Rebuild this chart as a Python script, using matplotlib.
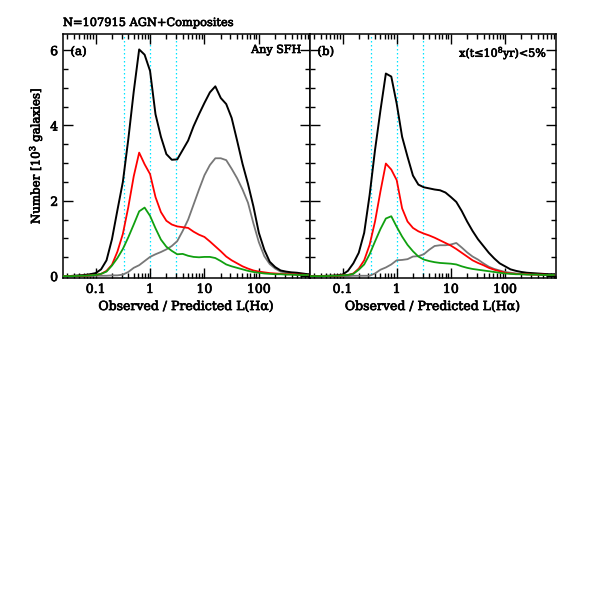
import numpy as np
import matplotlib
matplotlib.use("Agg")
import matplotlib.pyplot as plt
import matplotlib.patheffects as pe
from matplotlib.ticker import LogLocator, FixedLocator, MultipleLocator, FixedFormatter

# log10 of bin centres (Observed / Predicted L(Halpha))
logx = [-1.6, -1.5, -1.4, -1.3, -1.2, -1.1, -1.0, -0.9, -0.8, -0.7,
        -0.6, -0.5, -0.4, -0.3, -0.2, -0.1, 0.0, 0.1, 0.2, 0.3,
        0.4, 0.5, 0.6, 0.7, 0.8, 0.9, 1.0, 1.1, 1.2, 1.3,
        1.4, 1.5, 1.6, 1.7, 1.8, 1.9, 2.0, 2.1, 2.2, 2.3,
        2.4, 2.5, 2.6, 2.7, 2.8, 2.9]

# Panel (a): Any SFH
a_black = [0.0, 0.0, 0.01, 0.02, 0.03, 0.05, 0.08, 0.18, 0.42, 0.98,
           1.75, 2.5, 3.63, 4.9, 6.02, 5.88, 5.45, 4.3, 3.7, 3.24,
           3.09, 3.1, 3.35, 3.6, 3.98, 4.3, 4.6, 4.88, 5.04, 4.73,
           4.57, 4.2, 3.6, 2.98, 2.45, 1.85, 1.15, 0.7, 0.38, 0.24,
           0.15, 0.12, 0.1, 0.09, 0.07, 0.05]
a_gray = [0.0, 0.0, 0.0, 0.0, 0.0, 0.0, 0.01, 0.01, 0.01, 0.02,
          0.02, 0.04, 0.11, 0.22, 0.29, 0.4, 0.51, 0.58, 0.64, 0.71,
          0.8, 0.93, 1.2, 1.5, 1.9, 2.3, 2.68, 2.95, 3.13, 3.13,
          3.08, 2.85, 2.6, 2.3, 1.95, 1.4, 0.9, 0.53, 0.32, 0.2,
          0.12, 0.09, 0.07, 0.06, 0.05, 0.04]
a_red = [0.0, 0.0, 0.0, 0.01, 0.01, 0.02, 0.03, 0.06, 0.14, 0.3,
         0.65, 1.12, 1.83, 2.65, 3.28, 2.97, 2.71, 2.1, 1.7, 1.47,
         1.37, 1.32, 1.3, 1.28, 1.18, 1.1, 1.04, 0.92, 0.79, 0.66,
         0.52, 0.42, 0.34, 0.26, 0.2, 0.15, 0.12, 0.1, 0.08, 0.07,
         0.06, 0.05, 0.05, 0.04, 0.04, 0.03]
a_green = [0.0, 0.0, 0.0, 0.01, 0.01, 0.02, 0.03, 0.06, 0.12, 0.28,
           0.48, 0.72, 1.03, 1.37, 1.72, 1.82, 1.6, 1.27, 0.97, 0.78,
           0.67, 0.58, 0.59, 0.54, 0.51, 0.5, 0.51, 0.51, 0.48, 0.4,
           0.31, 0.26, 0.22, 0.18, 0.14, 0.11, 0.09, 0.07, 0.06, 0.05,
           0.05, 0.04, 0.04, 0.03, 0.03, 0.03]

# Panel (b): x(t<=1e8 yr) < 5%
b_black = [0.0, 0.0, 0.0, 0.01, 0.01, 0.02, 0.04, 0.14, 0.34, 0.62,
           1.15, 2.15, 3.35, 4.4, 5.38, 5.3, 4.58, 3.7, 3.17, 2.67,
           2.43, 2.36, 2.33, 2.3, 2.28, 2.22, 2.1, 1.97, 1.73, 1.45,
           1.2, 0.98, 0.8, 0.62, 0.47, 0.34, 0.26, 0.18, 0.14, 0.11,
           0.09, 0.08, 0.07, 0.06, 0.05, 0.05]
b_gray = [0.0, 0.0, 0.0, 0.0, 0.0, 0.0, 0.0, 0.0, 0.01, 0.01,
          0.01, 0.01, 0.07, 0.17, 0.23, 0.31, 0.42, 0.43, 0.45, 0.52,
          0.53, 0.58, 0.7, 0.8, 0.82, 0.82, 0.84, 0.88, 0.76, 0.63,
          0.52, 0.44, 0.34, 0.25, 0.19, 0.15, 0.11, 0.09, 0.07, 0.06,
          0.05, 0.05, 0.04, 0.04, 0.04, 0.03]
b_red = [0.0, 0.0, 0.0, 0.0, 0.01, 0.01, 0.02, 0.03, 0.07, 0.2,
         0.42, 0.83, 1.45, 2.25, 2.99, 2.83, 2.55, 1.8, 1.45, 1.28,
         1.19, 1.13, 1.08, 1.02, 0.95, 0.88, 0.81, 0.72, 0.62, 0.52,
         0.42, 0.35, 0.29, 0.22, 0.17, 0.13, 0.09, 0.07, 0.06, 0.05,
         0.05, 0.04, 0.04, 0.04, 0.03, 0.03]
b_green = [0.0, 0.0, 0.0, 0.0, 0.01, 0.01, 0.02, 0.03, 0.06, 0.17,
           0.31, 0.58, 0.92, 1.25, 1.53, 1.59, 1.31, 1.05, 0.83, 0.66,
           0.52, 0.44, 0.4, 0.37, 0.35, 0.34, 0.33, 0.31, 0.26, 0.22,
           0.19, 0.17, 0.15, 0.13, 0.11, 0.09, 0.07, 0.06, 0.05, 0.05,
           0.04, 0.04, 0.04, 0.03, 0.03, 0.03]

vlines = [1 / 3, 1.0, 3.0]
xtick_vals = [0.1, 1, 10, 100]
xtick_labels = ["0.1", "1", "10", "100"]
ytick_vals = [0, 2, 4, 6]

x = 10 ** np.array(logx)

plt.rcParams['font.family'] = ['DejaVu Serif']
plt.rcParams['mathtext.default'] = 'regular'
heavy = [pe.withStroke(linewidth=0.5, foreground="black")]

fig = plt.figure(figsize=(5.89, 5.89), dpi=100)
W, H = 589, 589
ax_a = fig.add_axes([63 / W, 1 - 278 / H, (310 - 63) / W, (278 - 34) / H])
ax_b = fig.add_axes([310 / W, 1 - 278 / H, (556 - 310) / W, (278 - 34) / H])

panels = [
    (ax_a, a_black, a_gray, a_red, a_green, "(a)", "Any SFH"),
    (ax_b, b_black, b_gray, b_red, b_green, "(b)", "x(t\u2264$10^8$yr)<5%"),
]

for ax, blk, gry, red, grn, tag, label in panels:
    for v in vlines:
        ax.axvline(v, color="#00e5ff", ls=(0, (1.2, 2.0)), lw=0.9, zorder=1)
    ax.plot(x, gry, color="#777777", lw=1.3, zorder=2)
    ax.plot(x, blk, color="black", lw=1.4, zorder=3)
    ax.plot(x, red, color="#ff0000", lw=1.3, zorder=4)
    ax.plot(x, grn, color="#10a010", lw=1.3, zorder=5)
    ax.set_xscale("log")
    ax.set_xlim(10 ** -1.6, 10 ** 2.94)
    ax.set_ylim(-0.05, 6.43)
    ax.xaxis.set_major_locator(FixedLocator(xtick_vals))
    ax.xaxis.set_major_formatter(FixedFormatter(xtick_labels))
    ax.xaxis.set_minor_locator(LogLocator(base=10, subs=np.arange(2, 10), numticks=20))
    ax.yaxis.set_major_locator(FixedLocator(ytick_vals))
    ax.yaxis.set_minor_locator(MultipleLocator(0.5))
    ax.tick_params(which="both", direction="in", top=True, right=True, width=1.0)
    ax.tick_params(which="major", length=7, labelsize=9)
    ax.tick_params(which="minor", length=3.5)
    for s in ax.spines.values():
        s.set_linewidth(1.1)
    ax.set_xlabel("Observed / Predicted L(H\u03b1)", fontsize=9, labelpad=3, path_effects=heavy)
    ax.text(0.03, 0.955, tag, transform=ax.transAxes, fontsize=8.5, ha="left", va="top",
            path_effects=heavy)
    ax.text(0.965, 0.955, label, transform=ax.transAxes, fontsize=8, ha="right", va="top",
            path_effects=heavy)

ax_a.set_ylabel("Number [$10^3$ galaxies]", fontsize=8.5, labelpad=4, path_effects=heavy)
ax_b.tick_params(which="both", labelleft=False)
fig.text(63 / W, 1 - 26 / H, "N=107915 AGN+Composites", fontsize=8.2, ha="left", va="baseline",
         path_effects=heavy)

fig.canvas.draw()
for ax in (ax_a, ax_b):
    for t in ax.get_xticklabels() + ax.get_yticklabels():
        t.set_path_effects(heavy)

fig.savefig("out.png", dpi=100)
